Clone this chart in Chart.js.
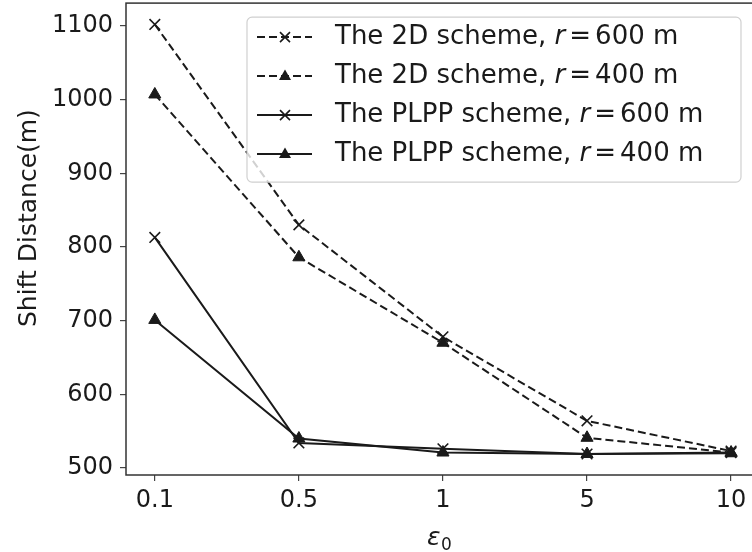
<!DOCTYPE html>
<html>
<head>
<meta charset="utf-8">
<script src="https://cdn.jsdelivr.net/npm/chart.js@4.4.1/dist/chart.umd.min.js"></script>
<style>
html, body { margin: 0; padding: 0; background: #fff; overflow: hidden; }
#wrap { position: relative; width: 752px; height: 552px; overflow: hidden; }
#shift-chart { position: absolute; left: 0; top: -6px; }
</style>
</head>
<body>
<div id="wrap"><canvas id="shift-chart" width="769" height="558"></canvas></div>
<script>
// epsilon_0 values on the x axis (evenly spaced categories)
const epsLabels = ['0.1', '0.5', '1', '5', '10'];
const yTicks = [500, 600, 700, 800, 900, 1000, 1100];

// shift distance in metres
const scheme2d600 = [1102, 830, 678, 564, 523];
const scheme2d400 = [1007, 786, 670, 541, 521];
const plpp600 = [813, 534, 526, 519, 521];
const plpp400 = [701, 540, 521, 519, 520];

const seriesNames = [
    ['The 2D scheme, ', '600 m'],
    ['The 2D scheme, ', '400 m'],
    ['The PLPP scheme, ', '600 m'],
    ['The PLPP scheme, ', '400 m']
];

const FONT = '"DejaVu Sans", sans-serif';
const INK = '#1a1a1a';
const DASH = [8, 4];

function toPoints(arr) {
    return arr.map((v, i) => ({ x: i, y: v }));
}

function series(label, values, dashed, marker) {
    const tri = marker === 'triangle';
    return {
        label,
        data: toPoints(values),
        borderColor: INK,
        backgroundColor: INK,
        borderWidth: 2,
        borderDash: dashed ? DASH : [],
        pointStyle: marker,
        pointRadius: tri ? 7 : 7.5,
        pointBorderWidth: tri ? 1 : 1.6,
        pointBackgroundColor: INK,
        pointBorderColor: INK,
        tension: 0,
        fill: false
    };
}

const datasets = [
    series(seriesNames[0].join(''), scheme2d600, true, 'crossRot'),
    series(seriesNames[1].join(''), scheme2d400, true, 'triangle'),
    series(seriesNames[2].join(''), plpp600, false, 'crossRot'),
    series(seriesNames[3].join(''), plpp400, false, 'triangle')
];

// axes box around the plot area
const frame = {
    id: 'frame',
    beforeDatasetsDraw(chart) {
        const { ctx, chartArea: a } = chart;
        ctx.save();
        ctx.strokeStyle = '#333';
        ctx.lineWidth = 1.5;
        ctx.strokeRect(a.left, a.top, a.right - a.left, a.bottom - a.top);
        ctx.restore();
    }
};

function drawMarker(ctx, style, x, y) {
    ctx.save();
    ctx.fillStyle = INK;
    ctx.strokeStyle = INK;
    ctx.setLineDash([]);
    if (style === 'triangle') {
        ctx.beginPath();
        ctx.moveTo(x, y - 6.5);
        ctx.lineTo(x + 6, y + 4);
        ctx.lineTo(x - 6, y + 4);
        ctx.closePath();
        ctx.fill();
    } else {
        ctx.lineWidth = 1.6;
        ctx.beginPath();
        ctx.moveTo(x - 5, y - 5); ctx.lineTo(x + 5, y + 5);
        ctx.moveTo(x + 5, y - 5); ctx.lineTo(x - 5, y + 5);
        ctx.stroke();
    }
    ctx.restore();
}

// legend box drawn over the lines, plus the axis titles (placed from the plot area)
const overlay = {
    id: 'overlay',
    afterDatasetsDraw(chart) {
        const ctx = chart.ctx;
        const a = chart.chartArea;
        const box = { x: a.left + 121, y: a.top + 14, w: 494, h: 165, r: 5 };
        ctx.save();
        ctx.beginPath();
        ctx.roundRect(box.x, box.y, box.w, box.h, box.r);
        ctx.fillStyle = 'rgba(255,255,255,0.8)';
        ctx.fill();
        ctx.strokeStyle = '#d0d0d0';
        ctx.lineWidth = 1.2;
        ctx.stroke();

        datasets.forEach((ds, i) => {
            const y = box.y + 20 + i * 39;
            ctx.strokeStyle = INK;
            ctx.lineWidth = 2;
            ctx.setLineDash(ds.borderDash);
            ctx.beginPath();
            ctx.moveTo(box.x + 10, y);
            ctx.lineTo(box.x + 65, y);
            ctx.stroke();
            drawMarker(ctx, ds.pointStyle, box.x + 38, y);

            ctx.setLineDash([]);
            ctx.fillStyle = INK;
            ctx.textBaseline = 'middle';
            ctx.textAlign = 'left';
            let x = box.x + 88;
            ctx.font = '26px ' + FONT;
            ctx.fillText(seriesNames[i][0], x, y);
            x += ctx.measureText(seriesNames[i][0]).width;
            ctx.font = 'italic 26px ' + FONT;
            ctx.fillText('r', x, y);
            x += ctx.measureText('r').width + 4;
            ctx.font = '26px ' + FONT;
            ctx.fillText('=', x, y);
            x += ctx.measureText('=').width + 4;
            ctx.fillText(seriesNames[i][1], x, y);
        });

        // x title: epsilon with subscript 0
        ctx.textBaseline = 'alphabetic';
        ctx.font = 'italic 25px ' + FONT;
        ctx.fillText('ε', a.left + 301, a.bottom + 70);
        ctx.font = '17px ' + FONT;
        ctx.fillText('0', a.left + 315, a.bottom + 75);

        // y title
        ctx.translate(a.left - 90, a.top + 215);
        ctx.rotate(-Math.PI / 2);
        ctx.textAlign = 'center';
        ctx.textBaseline = 'alphabetic';
        ctx.font = '25px ' + FONT;
        ctx.fillText('Shift Distance(m)', 0, 0);
        ctx.restore();
    }
};

const tickFont = { family: FONT, size: 24 };

new Chart(document.getElementById('shift-chart'), {
    type: 'line',
    data: { datasets },
    options: {
        responsive: false,
        animation: false,
        devicePixelRatio: 1,
        layout: { padding: { top: 3, right: 3, left: 0, bottom: 0 } },
        plugins: { legend: { display: false }, tooltip: { enabled: false } },
        scales: {
            x: {
                type: 'linear',
                min: -0.2,
                max: 4.2,
                afterBuildTicks: s => { s.ticks = epsLabels.map((_, i) => ({ value: i })); },
                afterFit: s => { s.height = 77; s.paddingLeft = 0; s.paddingRight = 0; },
                ticks: {
                    callback: v => epsLabels[v],
                    font: tickFont, color: INK, padding: 5,
                    maxRotation: 0, autoSkip: false
                },
                grid: { drawOnChartArea: false, tickLength: 6, color: '#444', lineWidth: 1.2 },
                border: { display: false }
            },
            y: {
                min: 490.5,
                max: 1131,
                afterBuildTicks: s => { s.ticks = yTicks.map(v => ({ value: v })); },
                afterFit: s => { s.width = 126; s.paddingTop = 0; s.paddingBottom = 0; },
                ticks: { callback: v => String(v), font: tickFont, color: INK, padding: 7 },
                grid: { drawOnChartArea: false, tickLength: 6, color: '#444', lineWidth: 1.2 },
                border: { display: false }
            }
        }
    },
    plugins: [frame, overlay]
});
</script>
</body>
</html>
